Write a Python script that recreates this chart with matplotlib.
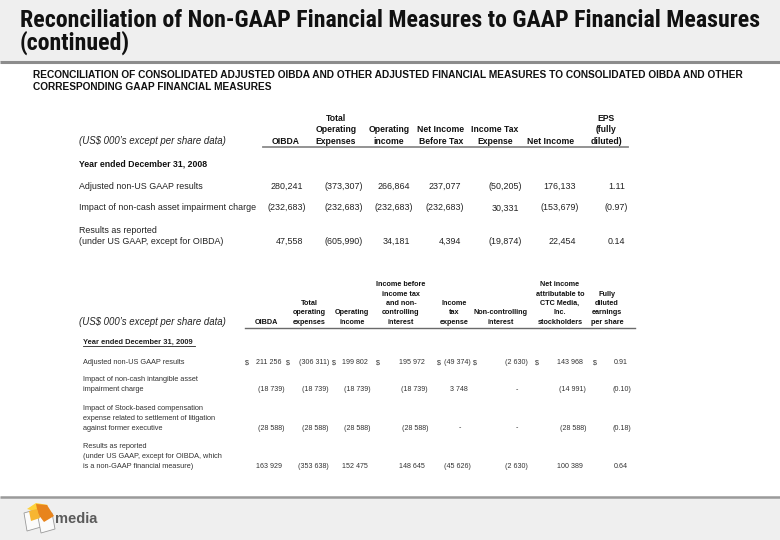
import matplotlib
matplotlib.use("Agg")
import matplotlib.pyplot as plt
from matplotlib import font_manager
from matplotlib.patches import Rectangle, Polygon

# ---- slide text and table data ----
title_lines = ["Reconciliation of Non-GAAP Financial Measures to GAAP Financial Measures",
               "(continued)"]
subtitle_lines = ["RECONCILIATION OF CONSOLIDATED ADJUSTED OIBDA AND OTHER ADJUSTED FINANCIAL "
                  "MEASURES TO CONSOLIDATED OIBDA AND OTHER",
                  "CORRESPONDING GAAP FINANCIAL MEASURES"]
units_label = "(US$ 000\u2019s except per share data)"

# table 1 - 2008
t1_headers = ["OIBDA", "Total\nOperating\nExpenses", "Operating\nincome", "Net Income\nBefore Tax",
              "Income Tax\nExpense", "Net Income", "EPS\n(fully\ndiluted)"]
t1_period = "Year ended December 31, 2008"
t1_labels = [["Adjusted non-US GAAP results"],
             ["Impact of non-cash asset impairment charge"],
             ["Results as reported", "(under US GAAP, except for OIBDA)"]]
t1_adjusted = [280241, -373307, 266864, 237077, -50205, 176133, 1.11]
t1_impairment = [-232683, -232683, -232683, -232683, 30331, -153679, -0.97]
t1_reported = [47558, -605990, 34181, 4394, -19874, 22454, 0.14]

# table 2 - 2009
t2_headers = ["OIBDA", "Total\noperating\nexpenses", "Operating\nincome",
              "Income before\nincome tax\nand non-\ncontrolling\ninterest",
              "Income\ntax\nexpense", "Non-controlling\ninterest",
              "Net income\nattributable to\nCTC Media,\nInc.\nstockholders",
              "Fully\ndiluted\nearnings\nper share"]
t2_period = "Year ended December 31, 2009"
t2_labels = [["Adjusted non-US GAAP results"],
             ["Impact of non-cash intangible asset", "impairment charge"],
             ["Impact of Stock-based compensation", "expense related to settlement of litigation",
              "against former executive"],
             ["Results as reported", "(under US GAAP, except for OIBDA, which",
              "is a non-GAAP financial measure)"]]
t2_adjusted = [211256, -306311, 199802, 195972, -49374, -2630, 143968, 0.91]
t2_intangible = [-18739, -18739, -18739, -18739, 3748, None, -14991, -0.10]
t2_stock = [-28588, -28588, -28588, -28588, None, None, -28588, -0.18]
t2_reported = [163929, -353638, 152475, 148645, -45626, -2630, 100389, 0.64]

# ---- layout (pixel coordinates, y down) ----
names = {f.name for f in font_manager.fontManager.ttflist}
narrow = "Liberation Sans"
for cand in ["Liberation Sans Narrow", "Arial Narrow", "Roboto Condensed"]:
    if cand in names:
        narrow = cand
        break
plt.rcParams["font.family"] = "Liberation Sans"

fig = plt.figure(figsize=(7.8, 5.4), dpi=100)
ax = fig.add_axes([0, 0, 1, 1])
ax.set_xlim(0, 780)
ax.set_ylim(540, 0)
ax.axis("off")
renderer = fig.canvas.get_renderer()


def fit(t, width):
    # shrink or grow a text so it spans the width seen in the slide
    w = t.get_window_extent(renderer).width
    t.set_fontsize(t.get_fontsize() * width / w)
    return t.get_fontsize()


# header and footer bands
ax.add_patch(Rectangle((0, 0), 780, 61, color="#efefef", zorder=0))
ax.plot([0, 780], [62, 62], color="#8c8c8c", lw=2.2, solid_capstyle="butt")
ax.add_patch(Rectangle((0, 497), 780, 43, color="#efefef", zorder=0))
ax.plot([0, 780], [496.5, 496.5], color="#9a9a9a", lw=1.8, solid_capstyle="butt")

t = ax.text(20, 9, "\n".join(title_lines), family=narrow, fontsize=17.5, weight="bold",
            va="top", linespacing=0.92, color="#111111")
fit(t, 740)
s = ax.text(33, 78, subtitle_lines[0], fontsize=6.6, weight="bold", va="baseline", color="#111111")
ssize = fit(s, 712)
ax.text(33, 90, subtitle_lines[1], fontsize=ssize, weight="bold", va="baseline", color="#111111")


def fmt(v, eps, sep):
    if v is None:
        return "-"
    s = f"{abs(v):.2f}" if eps else f"{abs(v):,}".replace(",", sep)
    return f"({s})" if v < 0 else s


def header(centers, labels, bottom, step, size):
    for cx, lab in zip(centers, labels):
        lines = lab.split("\n")
        for i, line in enumerate(reversed(lines)):
            ax.text(cx, bottom - i * step, line, ha="center", va="center",
                    fontsize=size, weight="bold", color="#111111")


def row(edges, values, y, size, sep, color):
    n = len(values)
    for i, (edge, v) in enumerate(zip(edges, values)):
        s = fmt(v, i == n - 1, sep)
        if v is None:
            ax.text(edge - 11, y, s, ha="center", va="center", fontsize=size, color=color)
        else:
            x = edge if v < 0 else edge - 3
            ax.text(x, y, s, ha="right", va="center", fontsize=size, color=color)


# ---- table 1 ----
t1_centers = [286, 336, 389, 441, 495, 551, 606]
t1_edges = [306, 363, 413, 464, 522, 579, 628]
ax.text(79, 141.5, units_label, style="italic", fontsize=6.9, va="center", color="#222222")
header(t1_centers, t1_headers, 141.5, 11.5, 6.2)
ax.plot([263, 628], [147, 147], color="#8a8a8a", lw=1.3)
ax.text(79, 164, t1_period, fontsize=6.3, weight="bold", va="center", color="#111111")

t1_rows = [t1_adjusted, t1_impairment, t1_reported]
t1_y = [[186.7], [208], [230.5, 241.7]]
for labs, vals, ys in zip(t1_labels, t1_rows, t1_y):
    for lab, y in zip(labs, ys):
        ax.text(79, y, lab, fontsize=6.4, va="center", color="#222222")
    row(t1_edges, vals, ys[-1], 6.4, ",", "#222222")

# ---- table 2 ----
t2_centers = [266, 309, 352, 401, 454, 501, 560, 607]
t2_edges = [285, 329, 371, 428, 471, 528, 586, 631]
t2_dollars = [247, 288, 333.5, 378, 439, 475, 537, 595]
ax.text(79, 322, units_label, style="italic", fontsize=6.9, va="center", color="#222222")
header(t2_centers, t2_headers, 322, 9.3, 5.2)
ax.plot([245, 635], [328, 328], color="#6a6a6a", lw=1.0)
ax.text(83, 342, t2_period, fontsize=5.4, weight="bold", va="center", color="#222222")
ax.plot([83, 195], [345.5, 345.5], color="#222222", lw=0.6)

t2_rows = [t2_adjusted, t2_intangible, t2_stock, t2_reported]
t2_y = [[363], [379.5, 389.5], [409, 418.5, 428], [446, 456, 466]]
for labs, vals, ys in zip(t2_labels, t2_rows, t2_y):
    for lab, y in zip(labs, ys):
        ax.text(83, y, lab, fontsize=5.3, va="center", color="#333333")
    row(t2_edges, vals, ys[-1], 5.1, " ", "#333333")
for x in t2_dollars:
    ax.text(x, 363, "$", ha="center", va="center", fontsize=5.1, color="#333333")

# ---- logo ----
ax.add_patch(Polygon([(24, 513), (38, 509), (41, 527), (27, 531)], closed=True,
                     facecolor="#fbfbfb", edgecolor="#9a9a9a", lw=0.6))
ax.add_patch(Polygon([(38, 517), (52, 513), (55, 529), (41, 533)], closed=True,
                     facecolor="#fbfbfb", edgecolor="#9a9a9a", lw=0.6))
ax.add_patch(Polygon([(27, 509), (36, 503), (48, 505), (40, 513)], closed=True,
                     facecolor="#ffd23a", edgecolor="none"))
ax.add_patch(Polygon([(36, 504), (47, 505), (54, 516), (44, 522), (38, 514)], closed=True,
                     facecolor="#e8841c", edgecolor="none"))
ax.add_patch(Polygon([(29, 511), (37, 509), (40, 518), (31, 521)], closed=True,
                     facecolor="#f7b531", edgecolor="none"))
ax.text(55, 523, "media", fontsize=10.5, weight="bold", va="baseline", color="#5b5b5b")

fig.savefig("out.png", dpi=100)
